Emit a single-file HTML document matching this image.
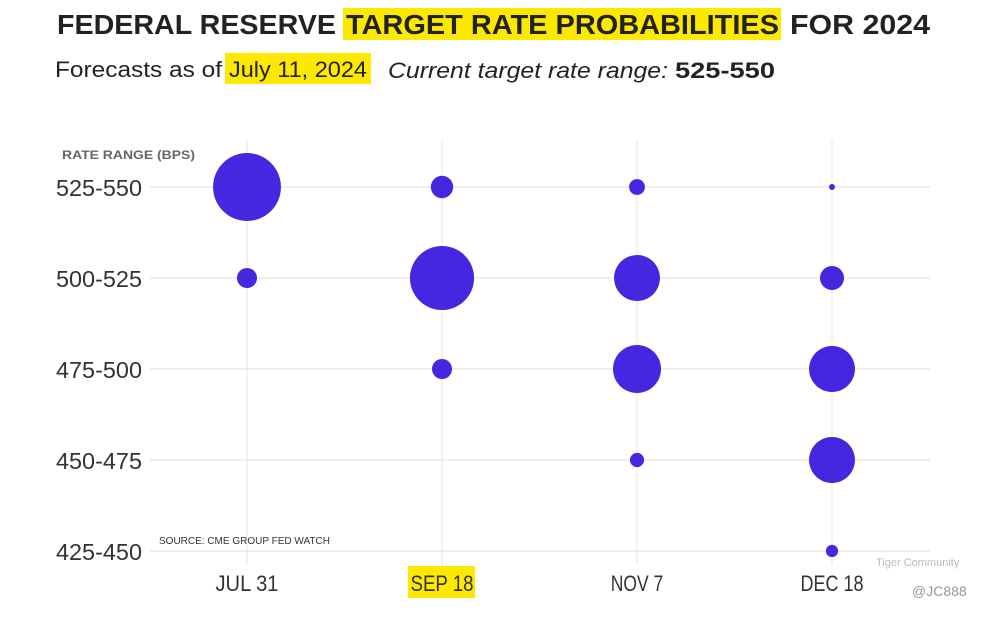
<!DOCTYPE html>
<html><head><meta charset="utf-8"><style>
body{margin:0;background:#fff;width:998px;height:616px;overflow:hidden;font-family:"Liberation Sans",sans-serif}
</style></head><body>
<svg id="chart" width="998" height="616">
<rect x="343" y="8" width="438" height="32" fill="#fde800"/>
<text x="57" y="34" font-size="28" font-weight="bold" fill="#222" textLength="279" lengthAdjust="spacingAndGlyphs">FEDERAL RESERVE</text>
<text x="346" y="34" font-size="28" font-weight="bold" fill="#222" textLength="433" lengthAdjust="spacingAndGlyphs">TARGET RATE PROBABILITIES</text>
<text x="790" y="34" font-size="28" font-weight="bold" fill="#222" textLength="140" lengthAdjust="spacingAndGlyphs">FOR 2024</text>
<rect x="225" y="53" width="146" height="31" fill="#fde800"/>
<text x="55" y="77" font-size="22" fill="#222" textLength="167" lengthAdjust="spacingAndGlyphs">Forecasts as of</text>
<text x="229" y="77" font-size="22" fill="#222" textLength="138" lengthAdjust="spacingAndGlyphs">July 11, 2024</text>
<text x="388" y="78" font-size="22" font-style="italic" fill="#222" textLength="280" lengthAdjust="spacingAndGlyphs">Current target rate range:</text>
<text x="675" y="78" font-size="22" font-weight="bold" fill="#222" textLength="100" lengthAdjust="spacingAndGlyphs">525-550</text>
<text x="62" y="159" font-size="12" font-weight="bold" fill="#666" textLength="133" lengthAdjust="spacingAndGlyphs">RATE RANGE (BPS)</text>
<rect x="408" y="566" width="67" height="32" fill="#fde800"/>
<text x="159" y="544" font-size="10" fill="#333">SOURCE: CME GROUP FED WATCH</text>
<text x="876" y="566" font-size="11" fill="#bbb">Tiger Community</text>
<text x="912" y="596" font-size="14" fill="#999">@JC888</text>
<g id="grid"></g><g id="marks"></g>
</svg>
<script>
const meetings=["JUL 31","SEP 18","NOV 7","DEC 18"];
const ranges=["525-550","500-525","475-500","450-475","425-450"];
const probJul=[92,8,0,0,0];
const probSep=[10,82,8,0,0];
const probNov=[5,42,46,4,0];
const probDec=[0.7,11.5,42,42,3];
const probs=[probJul,probSep,probNov,probDec];
const NS="http://www.w3.org/2000/svg";
const xS=i=>247+i*195;
const yS=j=>187+j*91;
const rS=p=>3.54*Math.sqrt(p);
const grid=document.getElementById('grid'),marks=document.getElementById('marks');
function mk(tag,at,parent){const e=document.createElementNS(NS,tag);for(const k in at)e.setAttribute(k,at[k]);parent.appendChild(e);return e;}
meetings.forEach((m,i)=>{
 const l=mk('line',{x1:xS(i),x2:xS(i),y1:140,y2:565,stroke:'#e6e6e6'},grid);
 
 
 const t=mk('text',{x:xS(i),y:591,'text-anchor':'middle','font-size':22,fill:'#333'},grid);
 
 
 t.setAttribute('textLength',m.length*10.5);t.setAttribute('lengthAdjust','spacingAndGlyphs');
 t.textContent=m;
});
ranges.forEach((r,j)=>{
 const l=mk('line',{x1:150,x2:930,y1:yS(j),y2:yS(j),stroke:'#dcdcdc'},grid);
 
 
 const t=mk('text',{x:56,y:yS(j)+9,'font-size':23,fill:'#333',textLength:86,lengthAdjust:'spacingAndGlyphs'},grid);
 
 
 t.textContent=r;
});
probs.forEach((s,i)=>s.forEach((p,j)=>{
 if(p<=0)return;
 const c=mk('circle',{cx:xS(i),cy:yS(j),r:rS(p),fill:'#4527e0'},marks);
 
 
}));
</script>
</body></html>
